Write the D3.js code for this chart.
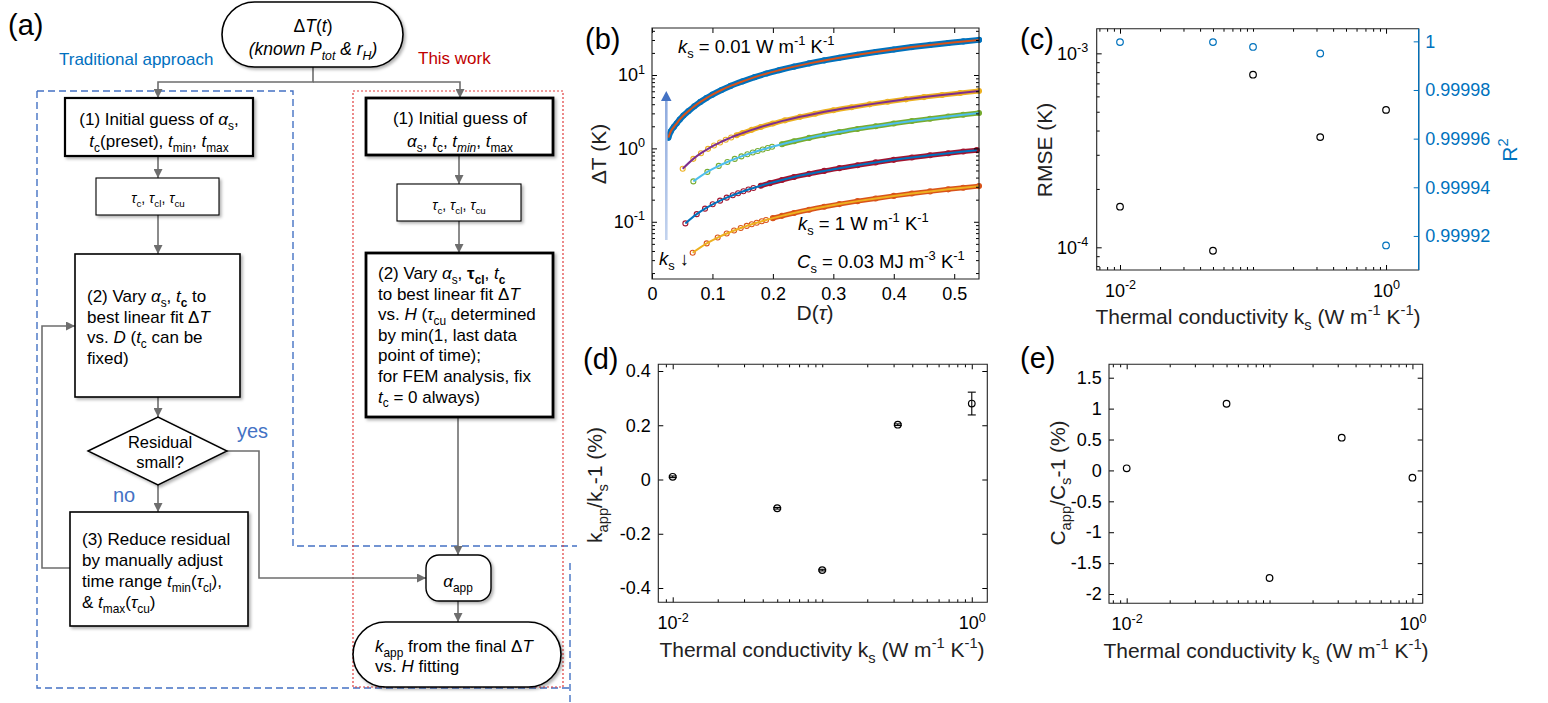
<!DOCTYPE html>
<html>
<head>
<meta charset="utf-8">
<script src="https://cdn.jsdelivr.net/npm/d3@7"></script>
<style>
  body { margin: 0; background: #fff; }
</style>
</head>
<body>
<script>
// ---- (b) ΔT vs D(tau), markers = data, line = fit ----
const dS1 = [0.027, 0.031, 0.036, 0.041, 0.046, 0.052, 0.06, 0.07, 0.08, 0.09, 0.1, 0.115, 0.13, 0.15, 0.17, 0.19, 0.21, 0.235, 0.26, 0.285, 0.31, 0.34, 0.37, 0.4, 0.43, 0.46, 0.49, 0.515, 0.541];
const tS1 = [1.4, 1.7, 1.95, 2.2, 2.48, 2.8, 3.2, 3.75, 4.3, 4.85, 5.4, 6.25, 7.1, 8.2, 9.35, 10.5, 11.6, 13.0, 14.4, 15.8, 17.2, 18.9, 20.6, 22.3, 24.0, 25.7, 27.3, 28.7, 30.1];
const dS2 = [0.0508, 0.0684, 0.0811, 0.0927, 0.1026, 0.1126, 0.122, 0.131, 0.14, 0.15, 0.165, 0.18, 0.2, 0.22, 0.245, 0.27, 0.3, 0.33, 0.36, 0.39, 0.42, 0.45, 0.48, 0.51, 0.541];
const tS2 = [0.528, 0.72, 0.86, 0.985, 1.095, 1.205, 1.31, 1.41, 1.51, 1.62, 1.79, 1.96, 2.18, 2.41, 2.69, 2.97, 3.31, 3.64, 3.98, 4.32, 4.66, 5.0, 5.34, 5.68, 6.05];
const dS3 = [0.0684, 0.0916, 0.1104, 0.1247, 0.1369, 0.1479, 0.1578, 0.1667, 0.1749, 0.1832, 0.1915, 0.1987, 0.215, 0.235, 0.26, 0.285, 0.31, 0.34, 0.37, 0.4, 0.43, 0.46, 0.49, 0.515, 0.541];
const tS3 = [0.355, 0.478, 0.577, 0.653, 0.719, 0.778, 0.832, 0.879, 0.923, 0.967, 1.013, 1.051, 1.14, 1.25, 1.39, 1.53, 1.67, 1.84, 2.0, 2.18, 2.36, 2.54, 2.72, 2.87, 3.03];
const dS4 = [0.0552, 0.074, 0.0877, 0.1004, 0.1126, 0.1236, 0.1336, 0.1424, 0.1512, 0.1595, 0.1678, 0.18, 0.195, 0.215, 0.235, 0.26, 0.285, 0.31, 0.34, 0.37, 0.4, 0.43, 0.46, 0.49, 0.515, 0.5375];
const tS4 = [0.095, 0.127, 0.151, 0.173, 0.194, 0.213, 0.23, 0.245, 0.26, 0.275, 0.289, 0.31, 0.336, 0.371, 0.407, 0.45, 0.493, 0.538, 0.59, 0.644, 0.698, 0.752, 0.805, 0.86, 0.905, 0.946];
const dS5 = [0.0673, 0.0905, 0.1087, 0.1236, 0.1358, 0.1468, 0.1567, 0.165, 0.1733, 0.1816, 0.1887, 0.2, 0.215, 0.235, 0.26, 0.285, 0.31, 0.34, 0.37, 0.4, 0.43, 0.46, 0.49, 0.515, 0.541];
const tS5 = [0.0378, 0.0507, 0.0609, 0.0692, 0.0761, 0.0822, 0.0878, 0.0924, 0.097, 0.1017, 0.1057, 0.112, 0.1204, 0.1316, 0.1458, 0.1599, 0.1741, 0.1911, 0.208, 0.2252, 0.2423, 0.2594, 0.2766, 0.2911, 0.306];
// where the markers of each set merge into a solid band
const bandFrom = [0.026, 0.14, 0.2, 0.168, 0.19];
const bTicksX = [0, 0.1, 0.2, 0.3, 0.4, 0.5];
const bTicksY = [0.1, 1, 10];

// ---- (c)-(e) vs thermal conductivity ----
const ks = [0.01, 0.05, 0.1, 0.32, 1];
const rmse = [1.62e-4, 0.96e-4, 7.76e-4, 3.7e-4, 5.11e-4];
const r2 = [0.9999997, 0.9999997, 0.9999977, 0.999995, 0.9999161];
const kDev = [0.01, -0.106, -0.334, 0.202, 0.28];
const kDevErr = [0.003, 0.003, 0.003, 0.003, 0.042];
const cDev = [0.034, 1.079, -1.741, 0.529, -0.118];
const ksTicks = [0.01, 1];
const cTicksL = [1e-4, 1e-3];
const cTicksR = [0.99992, 0.99994, 0.99996, 0.99998, 1];
const dTicksY = [-0.4, -0.2, 0, 0.2, 0.4];
const eTicksY = [-2, -1.5, -1, -0.5, 0, 0.5, 1, 1.5];

const FONT = "'Liberation Sans', Arial, Helvetica, sans-serif";
const TICK = 18, LAB = 21;
const matlab = ["#0072BD", "#D95319", "#EDB120", "#7E2F8E", "#77AC30", "#4DBEEE", "#A2142F"];
const markColor = [matlab[0], matlab[2], matlab[4], matlab[6], matlab[1]];
const fitColor = [matlab[1], matlab[3], matlab[5], matlab[0], matlab[2]];

const svg = d3.select("body").append("svg")
  .attr("width", 1548).attr("height", 703)
  .attr("font-family", FONT);

const defs = svg.append("defs");
defs.append("marker").attr("id", "arr")
  .attr("viewBox", "0 0 10 10").attr("refX", 10).attr("refY", 5)
  .attr("markerWidth", 9).attr("markerHeight", 9)
  .attr("markerUnits", "userSpaceOnUse").attr("orient", "auto")
  .append("path").attr("d", "M0,0L10,5L0,10Z").attr("fill", "#6e6e6e");
defs.append("filter").attr("id", "shade")
  .attr("x", "-10%").attr("y", "-10%").attr("width", "130%").attr("height", "130%")
  .append("feDropShadow").attr("dx", 2).attr("dy", 2).attr("stdDeviation", 1.6)
  .attr("flood-color", "#000").attr("flood-opacity", 0.3);

// tiny markup: _{sub} ^{sup} *italic* #bold#, "~" / "!" inside sub = italic / bold
function rich(sel, str, fs) {
  let off = 0;
  str.split(/(_\{[^}]*\}|\^\{[^}]*\}|\*[^*]+\*|#[^#]+#)/).forEach((tok) => {
    if (!tok) return;
    let t = tok, dy = 0, size = null, it = false, bd = false;
    if (tok.startsWith("_{")) { t = tok.slice(2, -1); dy = 0.28 * fs; size = 0.7 * fs; }
    else if (tok.startsWith("^{")) { t = tok.slice(2, -1); dy = -0.42 * fs; size = 0.7 * fs; }
    else if (tok[0] === "*") { t = tok.slice(1, -1); it = true; }
    else if (tok[0] === "#") { t = tok.slice(1, -1); bd = true; }
    while (t[0] === "~" || t[0] === "!") { if (t[0] === "~") it = true; else bd = true; t = t.slice(1); }
    const s = sel.append("tspan").text(t);
    if (dy - off) s.attr("dy", dy - off);
    off = dy;
    if (size) s.attr("font-size", size);
    if (it) s.attr("font-style", "italic");
    if (bd) s.attr("font-weight", "bold");
  });
  return sel;
}

function txt(g, x, y, str, fs, anchor, color) {
  const t = g.append("text").attr("x", x).attr("y", y)
    .attr("font-size", fs).attr("text-anchor", anchor || "start")
    .attr("fill", color || "#000");
  return rich(t, str, fs);
}

// ================= (a) flowchart =================
const fc = svg.append("g");
const WIRE = "#6e6e6e";

function shape(x0, y0, x1, y1, sw, rx) {
  fc.append("rect").attr("x", x0).attr("y", y0)
    .attr("width", x1 - x0).attr("height", y1 - y0).attr("rx", rx || 0)
    .attr("fill", "#fff").attr("stroke", "#000").attr("stroke-width", sw)
    .attr("filter", "url(#shade)");
}
function wire(pts, arrow) {
  fc.append("path").attr("d", d3.line()(pts))
    .attr("fill", "none").attr("stroke", WIRE).attr("stroke-width", 1.6)
    .attr("marker-end", arrow === false ? null : "url(#arr)");
}
function lines(x, y, step, list, fs, anchor) {
  list.forEach((s, i) => txt(fc, x, y + i * step, s, fs, anchor));
}

// dashed regions
fc.append("path")
  .attr("d", "M37,91H293V546H577M37,91V688H570M570,563V703")
  .attr("fill", "none").attr("stroke", "#4472C4").attr("stroke-width", 1.4)
  .attr("stroke-dasharray", "7,4");
fc.append("rect").attr("x", 353).attr("y", 91).attr("width", 210).attr("height", 596)
  .attr("fill", "none").attr("stroke", "#E03C3C").attr("stroke-width", 1.2)
  .attr("stroke-dasharray", "2,2");

txt(fc, 8, 35, "(a)", 29);
txt(fc, 59, 65, "Traditional approach", 17, "start", "#0070C0");
txt(fc, 418, 64, "This work", 17, "start", "#C00000");

// wires
wire([[313, 67], [313, 82], [158, 82], [158, 98]]);
wire([[313, 82], [460, 82], [460, 98]]);
wire([[158, 156], [158, 178]]);
wire([[158, 215], [158, 254]]);
wire([[158, 397], [158, 417]]);
wire([[158, 485], [158, 512]]);
wire([[227, 451], [259, 451], [259, 578], [426, 578]]);
wire([[70, 568], [42, 568], [42, 326], [75, 326]]);
wire([[459, 155], [459, 184]]);
wire([[459, 221], [459, 253]]);
wire([[458, 417], [458, 555]]);
wire([[458, 601], [458, 622]]);

// nodes
shape(222, 2, 403, 67, 1.6, 32.5);
lines(313, 32, 23, ["Δ*T*(*t*)"], 17.5, "middle");
fc.append("text").attr("x", 313).attr("y", 55).attr("font-size", 17.5)
  .attr("text-anchor", "middle").attr("font-style", "italic")
  .call((t) => rich(t, "(known P_{tot} & r_{H})", 17.5));

shape(65, 98, 253, 156, 2.2);
lines(159, 125, 22, ["(1) Initial guess of *α*_{s},", "*t*_{c}(preset), *t*_{min}, *t*_{max}"], 17, "middle");
shape(96, 178, 219, 215, 1.1);
lines(158, 203, 0, ["*τ*_{c}, *τ*_{cl}, *τ*_{cu}"], 14, "middle");
shape(75, 254, 240, 397, 1.6);
lines(87, 302, 20.5, ["(2) Vary *α*_{s}, *t*_{!c} to", "best linear  fit Δ*T*", "vs. *D* (*t*_{c} can be", "fixed)"], 17);
fc.append("path").attr("d", "M88,451L158,417L227,451L158,485Z")
  .attr("fill", "#fff").attr("stroke", "#000").attr("stroke-width", 1.4)
  .attr("filter", "url(#shade)");
lines(160, 448, 20, ["Residual", "small?"], 16.5, "middle");
txt(fc, 237, 438, "yes", 20, "start", "#4472C4");
txt(fc, 113, 502, "no", 20, "start", "#4472C4");
shape(70, 512, 248, 626, 1.6);
lines(82, 545, 21, ["(3) Reduce residual", "by manually  adjust", "time range *t*_{min}(*τ*_{cl}),", "& *t*_{max}(*τ*_{cu})"], 17);

shape(366, 98, 553, 155, 2.8);
lines(460, 124, 23, ["(1) Initial guess of", "*α*_{s}, *t*_{c}, *t*_{~min}, *t*_{max}"], 17, "middle");
shape(397, 184, 521, 221, 1.1);
lines(459, 210, 0, ["*τ*_{c}, *τ*_{cl}, *τ*_{cu}"], 14, "middle");
shape(366, 253, 553, 417, 2.8);
lines(378, 279, 20.6, ["(2) Vary *α*_{s}, #τ#_{!cl}, *t*_{!c}", "to best linear  fit Δ*T*", "vs. *H* (*τ*_{cu} determined",
  "by min(1, last data", "point of time);", "for FEM analysis, fix", "*t*_{c} = 0 always)"], 17);
shape(426, 555, 491, 601, 1.4, 13);
lines(458, 587, 0, ["*α*_{app}"], 17, "middle");
shape(353, 622, 561, 687, 1.6, 32.5);
lines(375, 652, 20, ["*k*_{app} from the final Δ*T*", "vs. *H* fitting"], 17);

// ================= shared axis helpers =================
const logFmt = (v) => "10^{" + Math.round(Math.log10(v)) + "}";
const numFmt = (v) => String(+v.toFixed(6));

function richTicks(g, fmt) {
  g.attr("font-size", TICK).attr("font-family", FONT);
  g.selectAll(".tick text").each(function (d) {
    const t = d3.select(this).text(null);
    rich(t, fmt(d), TICK);
  });
  g.select(".domain").remove();
}

function axisSet(g, axisFn, scale, at, major, minor, fmt, pad, color) {
  const a = g.append("g").attr("transform", at);
  a.call(axisFn(scale).tickValues(major).tickSize(-5).tickPadding(pad).tickFormat(fmt ? (d) => d : ""));
  richTicks(a, fmt || (() => ""));
  if (minor && minor.length) {
    const m = g.append("g").attr("transform", at);
    m.call(axisFn(scale).tickValues(minor).tickSize(-3).tickFormat(""));
    m.select(".domain").remove();
    if (color) m.attr("color", color);
  }
  if (color) a.attr("color", color);
  return a;
}

function minorsOf(scale, major) {
  return scale.ticks().filter((v) => !major.some((m) => Math.abs(m - v) / m < 1e-6));
}

function frame(g, x, y, opts) {
  const [xl, xr] = x.range(), [yb, yt] = y.range();
  const xMinor = opts.xLog ? minorsOf(x, opts.xMajor) : [];
  const yMinor = opts.yLog ? minorsOf(y, opts.yMajor) : [];
  axisSet(g, d3.axisBottom, x, `translate(0,${yb})`, opts.xMajor, xMinor, opts.xFmt, opts.xPad);
  axisSet(g, d3.axisTop, x, `translate(0,${yt})`, opts.xMajor, xMinor, null, 0);
  axisSet(g, d3.axisLeft, y, `translate(${xl},0)`, opts.yMajor, yMinor, opts.yFmt, opts.yPad);
  if (!opts.noRight) axisSet(g, d3.axisRight, y, `translate(${xr},0)`, opts.yMajor, yMinor, null, 0);
  g.append("path").attr("d", `M${xl},${yt}H${xr}V${yb}H${xl}Z`)
    .attr("fill", "none").attr("stroke", "#222").attr("stroke-width", 1.1);
}

function yLabel(g, x, y, str, color) {
  const t = g.append("text").attr("transform", `translate(${x},${y}) rotate(-90)`)
    .attr("font-size", LAB).attr("text-anchor", "middle").attr("fill", color || "#222");
  rich(t, str, LAB);
}

// ================= (b) =================
const gb = svg.append("g");
const xb = d3.scaleLinear([0, 0.541], [652, 979]);
const yb = d3.scaleLog([0.0166, 43.7], [279, 28]);
const setsB = [[dS1, tS1], [dS2, tS2], [dS3, tS3], [dS4, tS4], [dS5, tS5]];
const lineB = d3.line().x((p) => xb(p[0])).y((p) => yb(p[1])).curve(d3.curveMonotoneX);

setsB.forEach(([D, T], i) => {
  const pts = D.map((d, j) => [d, T[j]]);
  gb.append("path").datum(pts.filter((p) => p[0] >= bandFrom[i]))
    .attr("d", lineB).attr("fill", "none").attr("stroke", markColor[i])
    .attr("stroke-width", i === 0 ? 6 : 5).attr("stroke-linecap", "round");
  gb.selectAll(null).data(pts).enter().append("circle")
    .attr("cx", (p) => xb(p[0])).attr("cy", (p) => yb(p[1])).attr("r", 2.5)
    .attr("fill", "none").attr("stroke", markColor[i]).attr("stroke-width", 1.1);
  gb.append("path").datum(pts).attr("d", lineB).attr("fill", "none")
    .attr("stroke", fitColor[i]).attr("stroke-width", 2);
});

frame(gb, xb, yb, { xMajor: bTicksX, yMajor: bTicksY, xLog: false, yLog: true,
  xFmt: numFmt, yFmt: logFmt, xPad: 8, yPad: 7 });

// k_s arrow
const grad = defs.append("linearGradient").attr("id", "kgrad")
  .attr("x1", 0).attr("y1", 1).attr("x2", 0).attr("y2", 0);
grad.append("stop").attr("offset", 0).attr("stop-color", "#c3d3ee");
grad.append("stop").attr("offset", 1).attr("stop-color", "#8eaade");
gb.append("rect").attr("x", 665).attr("y", 100).attr("width", 2.6).attr("height", 140).attr("fill", "url(#kgrad)");
gb.append("path").attr("d", "M666.3,91L671.5,101H661Z").attr("fill", "#4472C4");

txt(gb, 678, 53, "*k*_{s} = 0.01 W m^{-1} K^{-1}", 18.5);
txt(gb, 798, 230, "*k*_{s} = 1 W m^{-1} K^{-1}", 18.5);
txt(gb, 797, 268, "*C*_{s} = 0.03 MJ m^{-3} K^{-1}", 18.5);
txt(gb, 659, 265, "*k*_{s} ↓", 18.5);
txt(gb, 585, 49, "(b)", 29);
txt(gb, 815, 320, "D(*τ*)", LAB, "middle", "#222");
yLabel(gb, 606, 154, "ΔT (K)");

// ================= (c) =================
const gc = svg.append("g");
const xc = d3.scaleLog([0.00668, 1.76], [1096.7, 1418.7]);
const ycL = d3.scaleLog([7.64e-5, 1.34e-3], [270, 28.7]);
const ycR = d3.scaleLinear([0.999906, 1.0000052], [270, 28.7]);
const BLUE = "#0072BD";

frame(gc, xc, ycL, { xMajor: ksTicks, yMajor: cTicksL, xLog: true, yLog: true,
  xFmt: logFmt, yFmt: logFmt, xPad: 14, yPad: 8.5, noRight: true });
axisSet(gc, d3.axisRight, ycR, "translate(1418.7,0)", cTicksR, [], (v) => numFmt(v), 6.5, BLUE);
gc.append("line").attr("x1", 1418.7).attr("x2", 1418.7).attr("y1", 28.7).attr("y2", 270)
  .attr("stroke", BLUE).attr("stroke-width", 1.3);

gc.selectAll("circle.rmse").data(ks).enter().append("circle")
  .attr("cx", (d) => xc(d)).attr("cy", (d, i) => ycL(rmse[i])).attr("r", 3.3)
  .attr("fill", "none").attr("stroke", "#000").attr("stroke-width", 1.2);
gc.selectAll("circle.r2").data(ks).enter().append("circle")
  .attr("cx", (d) => xc(d)).attr("cy", (d, i) => ycR(r2[i])).attr("r", 3.3)
  .attr("fill", "none").attr("stroke", BLUE).attr("stroke-width", 1.2);

txt(gc, 1020, 49, "(c)", 29);
yLabel(gc, 1052, 150, "RMSE (K)");
yLabel(gc, 1517, 150, "R^{2}", BLUE);
txt(gc, 1258, 324, "Thermal conductivity k_{s} (W m^{-1} K^{-1})", LAB, "middle", "#222");

// ================= (d) =================
const gd = svg.append("g");
const xd = d3.scaleLog([0.00801, 1.27], [658.3, 987.3]);
const yd = d3.scaleLinear([-0.4527, 0.4247], [602.3, 364.3]);
frame(gd, xd, yd, { xMajor: ksTicks, yMajor: dTicksY, xLog: true, yLog: false,
  xFmt: logFmt, yFmt: numFmt, xPad: 14, yPad: 7.5 });

const eb = gd.selectAll("g.eb").data(ks).enter().append("g");
eb.append("line").attr("x1", (d) => xd(d)).attr("x2", (d) => xd(d))
  .attr("y1", (d, i) => yd(kDev[i] - kDevErr[i])).attr("y2", (d, i) => yd(kDev[i] + kDevErr[i]))
  .attr("stroke", "#000").attr("stroke-width", 1.1);
[-1, 1].forEach((s) => {
  eb.append("line").attr("x1", (d) => xd(d) - 4).attr("x2", (d) => xd(d) + 4)
    .attr("y1", (d, i) => yd(kDev[i] + s * kDevErr[i])).attr("y2", (d, i) => yd(kDev[i] + s * kDevErr[i]))
    .attr("stroke", "#000").attr("stroke-width", 1.1);
});
eb.append("circle").attr("cx", (d) => xd(d)).attr("cy", (d, i) => yd(kDev[i])).attr("r", 3.3)
  .attr("fill", "none").attr("stroke", "#000").attr("stroke-width", 1.2);

txt(gd, 583, 369, "(d)", 29);
yLabel(gd, 602, 485, "k_{app}/k_{s}-1 (%)");
txt(gd, 822, 657, "Thermal conductivity k_{s} (W m^{-1} K^{-1})", LAB, "middle", "#222");

// ================= (e) =================
const ge = svg.append("g");
const xe = d3.scaleLog([0.00752, 1.18], [1109, 1422.7]);
const ye = d3.scaleLinear([-2.15, 1.717], [603.3, 364.3]);
frame(ge, xe, ye, { xMajor: ksTicks, yMajor: eTicksY, xLog: true, yLog: false,
  xFmt: logFmt, yFmt: numFmt, xPad: 14, yPad: 7.3 });
ge.selectAll("circle").data(ks).enter().append("circle")
  .attr("cx", (d) => xe(d)).attr("cy", (d, i) => ye(cDev[i])).attr("r", 3.3)
  .attr("fill", "none").attr("stroke", "#000").attr("stroke-width", 1.2);

txt(ge, 1020, 368, "(e)", 29);
yLabel(ge, 1065, 483, "C_{app}/C_{s}-1 (%)");
txt(ge, 1266, 658, "Thermal conductivity k_{s} (W m^{-1} K^{-1})", LAB, "middle", "#222");
</script>
</body>
</html>
